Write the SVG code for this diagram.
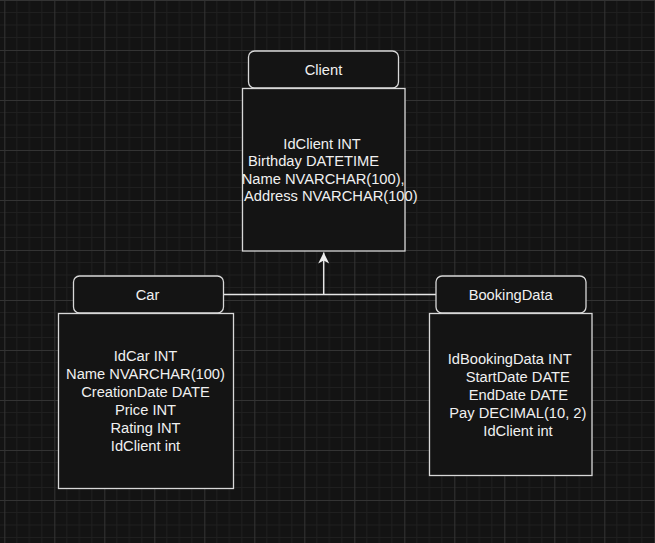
<svg xmlns="http://www.w3.org/2000/svg" width="655" height="543" viewBox="0 0 655 543">
<defs>
<pattern id="grid" patternUnits="userSpaceOnUse" x="4.3" y="0" width="50" height="50">
<rect width="50" height="50" fill="#131313"/>
<path d="M12.5 0V50M25 0V50M37.5 0V50M0 12.5H50M0 25H50M0 37.5H50" stroke="#1f1f1f" stroke-width="1" fill="none"/>
<path d="M0.5 0V50M0 0.5H50" stroke="#333333" stroke-width="1" fill="none"/>
</pattern>
<marker id="arrow" viewBox="0 0 12 12" markerWidth="12" markerHeight="12" refX="11" refY="6" orient="auto" markerUnits="userSpaceOnUse">
<path d="M0 0.5L11 6L0 11.5L3 6Z" fill="#eeeeee"/>
</marker>
</defs>
<style>
.box{fill:#141414;stroke:#d8d8d8;stroke-width:1.3}
.t{font-family:"Liberation Sans",Arial,sans-serif;font-size:14.7px;fill:#f0f0f0}
.c{text-anchor:middle}
.edge{stroke:#e6e6e6;stroke-width:1.5;fill:none}
</style>
<rect width="655" height="543" fill="url(#grid)"/>
<g id="connectors">
<path class="edge" d="M223.5 294.5H436"/>
<path class="edge" d="M323.7 294.5V252.5" marker-end="url(#arrow)"/>
</g>
<g id="client">
<rect class="box" x="248.5" y="51" width="150" height="37" rx="6"/>
<text class="t c" x="323.5" y="75">Client</text>
<rect class="box" x="242.5" y="88.5" width="162.5" height="162.5"/>
<text class="t" x="283.3" y="148.5">IdClient INT</text>
<text class="t" x="248" y="166">Birthday DATETIME</text>
<text class="t" x="241.7" y="183.5">Name NVARCHAR(100),</text>
<text class="t" x="244" y="201">Address NVARCHAR(100)</text>
</g>
<g id="car">
<rect class="box" x="73.5" y="276" width="150" height="37" rx="6"/>
<text class="t c" x="147.5" y="300">Car</text>
<rect class="box" x="58.5" y="313.5" width="175" height="175"/>
<text class="t c" x="145.5" y="361">IdCar INT</text>
<text class="t c" x="145.5" y="378.9">Name NVARCHAR(100)</text>
<text class="t c" x="145.5" y="396.8">CreationDate DATE</text>
<text class="t c" x="145.5" y="414.7">Price INT</text>
<text class="t c" x="145.5" y="432.6">Rating INT</text>
<text class="t c" x="145.5" y="450.5">IdClient int</text>
</g>
<g id="bookingdata">
<rect class="box" x="436" y="276" width="150" height="37" rx="6"/>
<text class="t c" x="510.7" y="300">BookingData</text>
<rect class="box" x="429.5" y="313.5" width="162.5" height="162"/>
<text class="t" x="447.7" y="363.5">IdBookingData INT</text>
<text class="t" x="465.7" y="381.5">StartDate DATE</text>
<text class="t" x="468.7" y="399.5">EndDate DATE</text>
<text class="t" x="449.3" y="417.5">Pay DECIMAL(10, 2)</text>
<text class="t" x="483.3" y="435.5">IdClient int</text>
</g>
</svg>
